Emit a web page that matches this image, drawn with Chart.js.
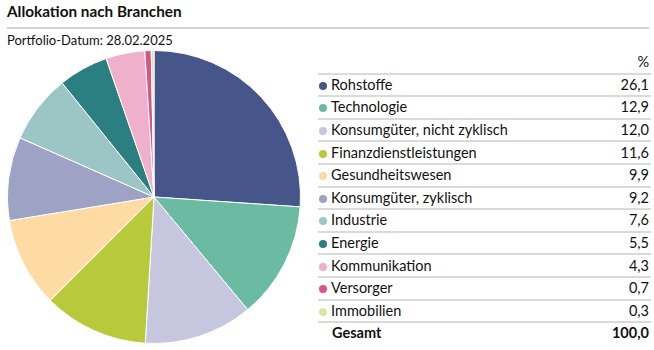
<!DOCTYPE html>
<html lang="de">
<head>
  <meta charset="UTF-8" />
  <title>Allokation nach Branchen</title>
  <script src="https://cdn.jsdelivr.net/npm/chart.js"></script>
  <style>
    body {
      margin: 0;
      width: 654px;
      height: 350px;
      background: #fff;
      font-family: Lato, "Open Sans", sans-serif;
      color: #111;
      position: relative;
      overflow: hidden;
    }
    #title {
      position: absolute;
      left: 7px;
      top: 2px;
      font-size: 15.3px;
      font-weight: bold;
    }
    #rule {
      position: absolute;
      left: 7px;
      top: 27px;
      width: 642px;
      height: 2px;
      background: #d4d4d4;
    }
    #datum {
      position: absolute;
      left: 7px;
      top: 32px;
      font-size: 13px;
    }
    #pieBox {
      position: absolute;
      left: 7px;
      top: 50px;
      width: 294px;
      height: 294px;
    }
    #tbl {
      position: absolute;
      left: 318px;
      top: 52px;
      width: 333px;
      border-collapse: collapse;
      font-size: 14.5px;
    }
    #tbl td {
      height: 20.6px;
      padding: 0;
      border-bottom: 2px solid #dadada;
      line-height: 20px;
    }
    #tbl tr:last-child td { border-bottom: none; font-weight: bold; }
    #tbl td.v { text-align: right; padding-right: 2px; }
    .dot {
      display: inline-block;
      width: 8px;
      height: 8px;
      border-radius: 50%;
      margin: 0 4px 0 1px;
      vertical-align: 0px;
    }
  </style>
</head>
<body>
  <div id="title">Allokation nach Branchen</div>
  <div id="rule"></div>
  <div id="datum">Portfolio-Datum: 28.02.2025</div>
  <div id="pieBox"><canvas id="pie"></canvas></div>
  <table id="tbl"></table>

  <script>
    const branchen = [
      "Rohstoffe",
      "Technologie",
      "Konsumgüter, nicht zyklisch",
      "Finanzdienstleistungen",
      "Gesundheitswesen",
      "Konsumgüter, zyklisch",
      "Industrie",
      "Energie",
      "Kommunikation",
      "Versorger",
      "Immobilien",
    ];
    const anteile = [26.1, 12.9, 12.0, 11.6, 9.9, 9.2, 7.6, 5.5, 4.3, 0.7, 0.3];
    const farben = [
      "#46558a", "#6bbba2", "#c6c7de", "#b8c93c", "#fddba3", "#9ea3c5",
      "#9cc6c5", "#2b7f80", "#eeb0cb", "#d9548a", "#dbe5a3",
    ];
    const gesamt = 100.0;

    const fmt = (v) => v.toFixed(1).replace(".", ",");

    // Tabelle rechts
    const tbl = document.getElementById("tbl");
    let html = '<tr><td></td><td class="v">%</td></tr>';
    branchen.forEach((b, i) => {
      html += `<tr><td><span class="dot" style="background:${farben[i]}"></span>${b}</td><td class="v">${fmt(anteile[i])}</td></tr>`;
    });
    html += `<tr><td style="padding-left:14px">Gesamt</td><td class="v">${fmt(gesamt)}</td></tr>`;
    tbl.innerHTML = html;

    new Chart(document.getElementById("pie"), {
      type: "pie",
      data: {
        labels: branchen,
        datasets: [
          {
            data: anteile,
            backgroundColor: farben,
            borderColor: "#ffffff",
            borderWidth: 1,
          },
        ],
      },
      options: {
        responsive: true,
        maintainAspectRatio: false,
        animation: false,
        layout: { padding: 0 },
        plugins: {
          legend: { display: false },
          tooltip: { enabled: false },
        },
      },
    });
  </script>
</body>
</html>
